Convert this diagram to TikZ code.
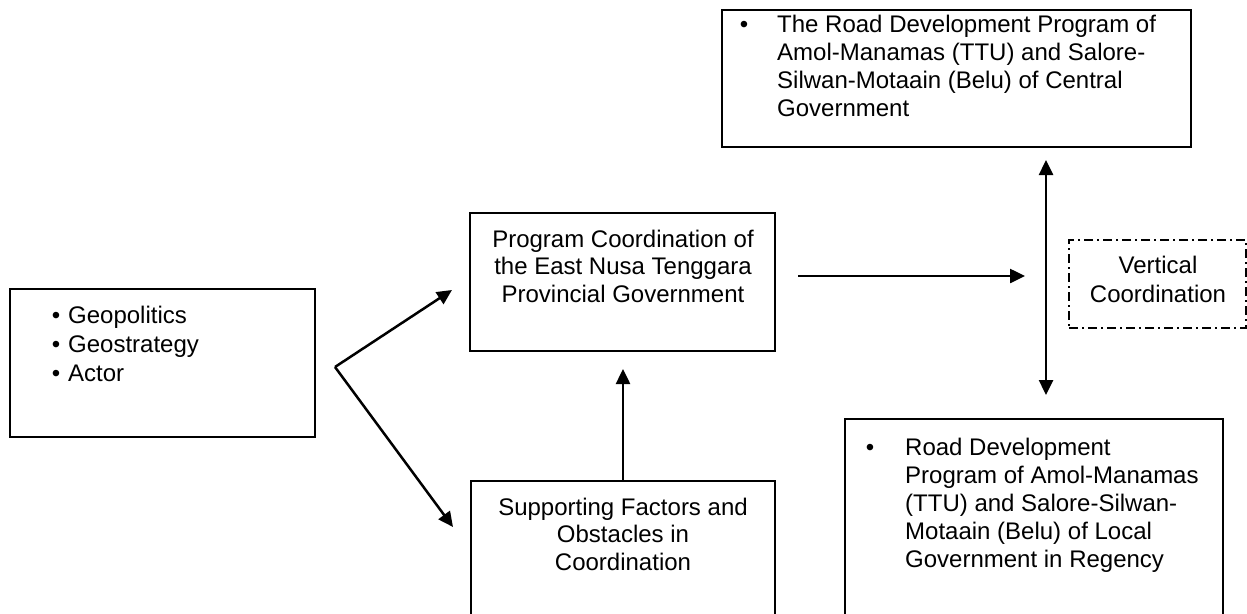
\documentclass[tikz,border=0pt]{standalone}
\usepackage{fontspec}
\setmainfont{Liberation Sans}
\usetikzlibrary{arrows.meta}
\begin{document}
\begin{tikzpicture}[x=1pt,y=-1pt,
  box/.style={draw, line width=1.8pt, inner sep=0pt},
  dashbox/.style={draw, line width=1.4pt, inner sep=0pt,
    dash pattern=on 9pt off 4pt on 2pt off 4pt},
  lbl/.style={inner sep=0pt, font=\fontsize{24}{27.5}\selectfont},
  conn/.style={line width=2.5pt, -{Triangle[length=15pt,width=14pt]}},
  biconn/.style={line width=2.5pt, {Triangle[length=15pt,width=14pt]}-{Triangle[length=15pt,width=14pt]}}]
\useasboundingbox (0,0) rectangle (1247,613);
\clip (0,0) rectangle (1247,613);
\fill[white] (0,0) rectangle (1247,613);

% boxes
\node[box, minimum width=305pt, minimum height=148pt] (lf) at (162.5,363) {};
\node[box, minimum width=305pt, minimum height=138pt] (mt) at (622.5,282) {};
\node[box, minimum width=304pt, minimum height=160pt] (mb) at (623,561) {};
\node[box, minimum width=469pt, minimum height=137pt] (tr) at (956.5,78.5) {};
\node[box, minimum width=378pt, minimum height=222pt] (br) at (1034,530) {};
\node[dashbox, minimum width=177pt, minimum height=88pt] (vc) at (1157.5,284) {};

% texts (the base anchor sits on the last line)
\node[lbl, anchor=base west, align=left, font=\fontsize{24}{29}\selectfont] (lftxt) at (68,381)
  {\llap{\textbullet\hspace{8pt}}Geopolitics\\\llap{\textbullet\hspace{8pt}}Geostrategy\\\llap{\textbullet\hspace{8pt}}Actor};
\node[lbl, anchor=base, align=center] (mttxt) at (623,302)
  {Program Coordination of\\the East Nusa Tenggara\\Provincial Government};
\node[lbl, anchor=base, align=center] (mbtxt) at (623,570)
  {Supporting Factors and\\Obstacles in\\Coordination};
\node[lbl, anchor=base, align=center, font=\fontsize{24}{29}\selectfont] (vctxt) at (1158,302)
  {Vertical\\Coordination};
\node[lbl, anchor=base west, align=left, font=\fontsize{24}{28}\selectfont] (trtxt) at (777,116)
  {\llap{\textbullet\hspace{29pt}}The Road Development Program of\\Amol-Manamas (TTU) and Salore-\\Silwan-Motaain (Belu) of Central\\Government};
\node[lbl, anchor=base west, align=left, font=\fontsize{24}{28}\selectfont] (brtxt) at (905,567)
  {\llap{\textbullet\hspace{31pt}}Road Development\\Program of Amol-Manamas\\(TTU) and Salore-Silwan-\\Motaain (Belu) of Local\\Government in Regency};

% connector end points
\coordinate (fork) at (335,367);
\coordinate (toMt) at (452,290);
\coordinate (toMb) at (453,527);
\coordinate (upEnd) at (623,369);
\coordinate (hStart) at (798,276);
\coordinate (hEnd) at (1025,276);
\coordinate (vTop) at (1046,160);
\coordinate (vBot) at (1046,395);

% connectors
\draw[conn] (fork) -- (toMt);
\draw[conn] (fork) -- (toMb);
\draw[conn] (mb.north) -- (upEnd);
\draw[conn] (hStart) -- (hEnd);
\draw[biconn] (vTop) -- (vBot);
\end{tikzpicture}
\end{document}
